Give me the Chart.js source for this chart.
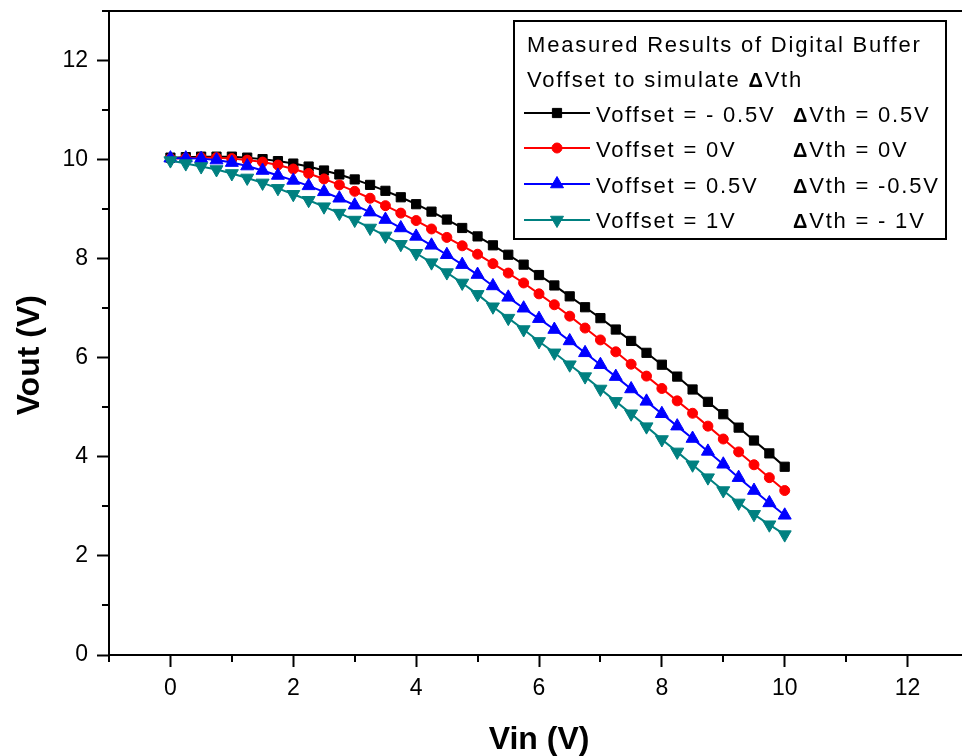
<!DOCTYPE html>
<html>
<head>
<meta charset="utf-8">
<style>
  html, body { margin: 0; padding: 0; overflow: hidden; background: #fff; }
  canvas { display: block; }
</style>
<script src="https://cdn.jsdelivr.net/npm/chart.js@4.4.1/dist/chart.umd.min.js"></script>
</head>
<body>
<canvas id="c" width="980" height="756"></canvas>
<script>
// Input voltage sweep (V)
const vin = [0, 0.25, 0.5, 0.75, 1, 1.25, 1.5, 1.75, 2, 2.25, 2.5, 2.75, 3, 3.25, 3.5, 3.75,
  4, 4.25, 4.5, 4.75, 5, 5.25, 5.5, 5.75, 6, 6.25, 6.5, 6.75, 7, 7.25, 7.5, 7.75,
  8, 8.25, 8.5, 8.75, 9, 9.25, 9.5, 9.75, 10];

// Measured output voltage (V) for each offset setting
const voutOffsetMinus05 = [10.04, 10.05, 10.06, 10.06, 10.06, 10.04, 10.01, 9.97, 9.92, 9.86,
  9.78, 9.70, 9.60, 9.49, 9.37, 9.24, 9.10, 8.95, 8.79, 8.62,
  8.45, 8.27, 8.08, 7.88, 7.67, 7.46, 7.24, 7.02, 6.80, 6.57,
  6.34, 6.10, 5.86, 5.62, 5.36, 5.11, 4.86, 4.59, 4.33, 4.07, 3.80];
const voutOffset0 = [10.02, 10.03, 10.04, 10.04, 10.02, 9.99, 9.95, 9.89, 9.81, 9.72,
  9.61, 9.49, 9.36, 9.22, 9.07, 8.92, 8.77, 8.60, 8.43, 8.26,
  8.09, 7.90, 7.71, 7.51, 7.29, 7.07, 6.84, 6.60, 6.36, 6.12,
  5.87, 5.63, 5.38, 5.13, 4.88, 4.62, 4.36, 4.10, 3.84, 3.58, 3.32];
const voutOffset05 = [10.03, 10.03, 10.02, 9.99, 9.94, 9.87, 9.78, 9.68, 9.58, 9.47,
  9.35, 9.22, 9.08, 8.94, 8.79, 8.62, 8.45, 8.27, 8.08, 7.88,
  7.68, 7.45, 7.22, 7.00, 6.79, 6.57, 6.34, 6.10, 5.86, 5.62,
  5.37, 5.12, 4.87, 4.62, 4.37, 4.11, 3.85, 3.58, 3.32, 3.07, 2.82];
const voutOffset1 = [9.98, 9.92, 9.86, 9.80, 9.72, 9.63, 9.53, 9.42, 9.30, 9.18,
  9.05, 8.92, 8.78, 8.62, 8.46, 8.29, 8.11, 7.92, 7.72, 7.51,
  7.28, 7.03, 6.80, 6.57, 6.33, 6.10, 5.86, 5.62, 5.37, 5.12,
  4.87, 4.61, 4.35, 4.10, 3.84, 3.58, 3.32, 3.07, 2.84, 2.63, 2.43];

const seriesLabels = ['Voffset = - 0.5V', 'Voffset = 0V', 'Voffset = 0.5V', 'Voffset = 1V'];
const deltaVthLabels = ['ΔVth = 0.5V', 'ΔVth = 0V', 'ΔVth = -0.5V', 'ΔVth = - 1V'];
const legendHeader = ['Measured Results of Digital Buffer', 'Voffset to simulate ΔVth'];

const xMajorTicks = [0, 2, 4, 6, 8, 10, 12];
const yMajorTicks = [0, 2, 4, 6, 8, 10, 12];
const xMinorTicks = [-1, 1, 3, 5, 7, 9, 11, 13];
const yMinorTicks = [1, 3, 5, 7, 9, 11, 13];

const FONT = '"Liberation Sans", Arial, sans-serif';

const styles = [
  { color: '#000000', pointStyle: 'rect', radius: 6.5, rotation: 0 },
  { color: '#ff0000', pointStyle: 'circle', radius: 5, rotation: 0 },
  { color: '#0000ff', pointStyle: 'triangle', radius: 7.5, rotation: 0 },
  { color: '#008080', pointStyle: 'triangle', radius: 7.5, rotation: 180 }
];
const seriesValues = [voutOffsetMinus05, voutOffset0, voutOffset05, voutOffset1];

const datasets = seriesValues.map((vals, i) => ({
  label: seriesLabels[i],
  data: vin.map((v, k) => ({ x: v, y: vals[k] })),
  borderColor: styles[i].color,
  backgroundColor: styles[i].color,
  pointBackgroundColor: styles[i].color,
  pointBorderColor: styles[i].color,
  pointStyle: styles[i].pointStyle,
  pointRadius: styles[i].radius,
  pointRotation: styles[i].rotation,
  pointBorderWidth: 1,
  borderWidth: 2,
  tension: 0,
  order: 4 - i
}));

// Short minor ticks plus the closed plot frame
const frameAndMinorTicks = {
  id: 'frameAndMinorTicks',
  afterDraw(chart) {
    const { ctx, chartArea: a, scales: { x, y } } = chart;
    ctx.save();
    ctx.strokeStyle = '#000';
    ctx.lineWidth = 2;
    ctx.beginPath();
    xMinorTicks.forEach(v => {
      const px = Math.round(x.getPixelForValue(v));
      ctx.moveTo(px, a.bottom);
      ctx.lineTo(px, a.bottom + 7);
    });
    yMinorTicks.forEach(v => {
      const py = Math.round(y.getPixelForValue(v));
      ctx.moveTo(a.left - 7, py);
      ctx.lineTo(a.left, py);
    });
    ctx.stroke();
    ctx.strokeRect(a.left, a.top, a.right - a.left, a.bottom - a.top);
    ctx.restore();
  }
};

// Draws a string where each Δ is set in bold
function drawRich(ctx, text, x, y) {
  const parts = text.split('Δ');
  let cx = x;
  parts.forEach((p, idx) => {
    if (idx > 0) {
      ctx.font = 'bold 20px ' + FONT;
      ctx.fillText('Δ', cx, y);
      cx += ctx.measureText('Δ').width;
    }
    ctx.font = '22px ' + FONT;
    ctx.fillText(p, cx, y);
    cx += ctx.measureText(p).width;
  });
}

const boxedLegend = {
  id: 'boxedLegend',
  afterDraw(chart) {
    const { ctx } = chart;
    ctx.save();
    ctx.fillStyle = '#fff';
    ctx.fillRect(514, 21, 432, 218);
    ctx.strokeStyle = '#000';
    ctx.lineWidth = 2;
    ctx.strokeRect(514, 21, 432, 218);

    ctx.fillStyle = '#000';
    ctx.textBaseline = 'alphabetic';
    ctx.textAlign = 'left';
    if ('letterSpacing' in ctx) ctx.letterSpacing = '1.8px';
    drawRich(ctx, legendHeader[0], 527, 52);
    drawRich(ctx, legendHeader[1], 527, 87);

    const rowBase = [122, 157, 193, 228];
    const rowLine = [113, 148, 184, 220];
    chart.data.datasets.forEach((ds, i) => {
      const ly = rowLine[i];
      ctx.strokeStyle = ds.borderColor;
      ctx.lineWidth = 2;
      ctx.beginPath();
      ctx.moveTo(524, ly);
      ctx.lineTo(590, ly);
      ctx.stroke();
      ctx.fillStyle = ds.pointBackgroundColor;
      ctx.strokeStyle = ds.pointBorderColor;
      ctx.lineWidth = 1;
      Chart.helpers.drawPoint(ctx, {
        pointStyle: ds.pointStyle,
        radius: ds.pointRadius,
        rotation: ds.pointRotation,
        borderWidth: 1
      }, 557, ly);
      ctx.fillStyle = '#000';
      drawRich(ctx, seriesLabels[i], 596, rowBase[i]);
      drawRich(ctx, deltaVthLabels[i], 793, rowBase[i]);
    });
    ctx.restore();
  }
};

const tickFont = { family: FONT, size: 23 };
const titleFont = { family: FONT, size: 32, weight: 'bold' };

new Chart(document.getElementById('c'), {
  type: 'line',
  data: { datasets },
  plugins: [frameAndMinorTicks, boxedLegend],
  options: {
    responsive: false,
    animation: false,
    devicePixelRatio: 1,
    layout: { padding: { top: 11, right: 11, left: 0, bottom: 0 } },
    plugins: { legend: { display: false }, tooltip: { enabled: false } },
    scales: {
      x: {
        type: 'linear',
        min: -1,
        max: 13,
        afterBuildTicks: s => { s.ticks = xMajorTicks.map(v => ({ value: v })); },
        afterFit: s => { s.height = 101; },
        grid: { drawOnChartArea: false, drawTicks: true, tickLength: 12, tickWidth: 2, tickColor: '#000' },
        border: { display: true, color: '#000', width: 2 },
        ticks: { font: tickFont, color: '#000', padding: 8, maxRotation: 0, autoSkip: false },
        title: { display: true, text: 'Vin (V)', font: titleFont, color: '#000', padding: { top: 0, bottom: -3 } }
      },
      y: {
        type: 'linear',
        min: 0,
        max: 13,
        afterBuildTicks: s => { s.ticks = yMajorTicks.map(v => ({ value: v })); },
        afterFit: s => { s.width = 109; s.paddingTop = 0; s.paddingBottom = 0; },
        grid: { drawOnChartArea: false, drawTicks: true, tickLength: 12, tickWidth: 2, tickColor: '#000' },
        border: { display: true, color: '#000', width: 2 },
        ticks: { font: tickFont, color: '#000', padding: 9, autoSkip: false },
        title: { display: true, text: 'Vout (V)     ', font: titleFont, color: '#000', padding: { top: 11, bottom: 0 } }
      }
    }
  }
});
</script>
</body>
</html>
